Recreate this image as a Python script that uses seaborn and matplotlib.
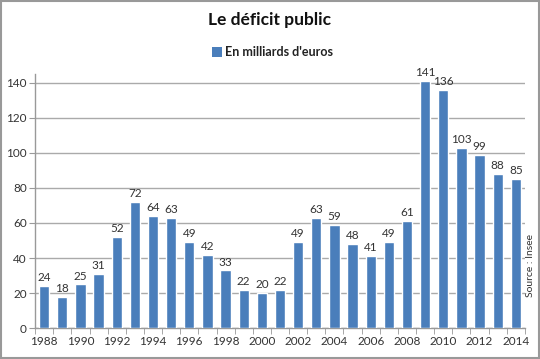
import matplotlib
matplotlib.use("Agg")
import matplotlib.pyplot as plt
import seaborn as sns
import pandas as pd
from matplotlib.patches import Rectangle

# data
years = list(range(1988, 2015))
deficit = [24, 18, 25, 31, 52, 72, 64, 63, 49, 42, 33, 22, 20, 22,
           49, 63, 59, 48, 41, 49, 61, 141, 136, 103, 99, 88, 85]
yticks = [0, 20, 40, 60, 80, 100, 120, 140]

df = pd.DataFrame({"annee": [str(y) for y in years], "deficit": deficit})

sns.set_style("white")
plt.rcParams['font.family'] = ['Lato', 'DejaVu Sans']

fig = plt.figure(figsize=(5.4, 3.59), dpi=100)
ax = fig.add_axes([0.065, 0.086, 0.907, 0.708])

bar_color = "#4a7ebb"
sns.barplot(data=df, x="annee", y="deficit", color=bar_color, width=0.57,
            saturation=1, ax=ax, zorder=3)
ax.bar_label(ax.containers[0], fontsize=8.5, color="#333333", padding=2)

ax.set_ylim(0, 145)
ax.set_xlim(-0.5, len(years) - 0.5)
ax.set_yticks(yticks)
ax.set_yticklabels([str(t) for t in yticks], fontsize=8.5, color="#333333")
ax.set_xticks(range(0, len(years), 2))
ax.set_xticklabels([str(y) for y in years[::2]], fontsize=8.5, color="#333333")
ax.tick_params(axis="x", length=0, pad=6)
ax.tick_params(axis="y", length=4, color="#999999", left=True, pad=2)
# minor ticks between categories
ax.set_xticks([i - 0.5 for i in range(len(years) + 1)], minor=True)
ax.tick_params(axis="x", which="minor", length=4, color="#999999", bottom=True)

ax.set_xlabel("")
ax.set_ylabel("")
ax.yaxis.grid(True, color="#aaaaaa", linewidth=1, zorder=0)
ax.set_axisbelow(True)
for s in ["top", "right"]:
    ax.spines[s].set_visible(False)
for s in ["left", "bottom"]:
    ax.spines[s].set_color("#999999")
    ax.spines[s].set_linewidth(1)

fig.text(0.5, 0.945, "Le déficit public", ha="center", va="center",
         fontsize=12.5, fontweight="bold", color="#111111")
# legend
fig.patches.append(Rectangle((0.392, 0.84), 0.019, 0.03, transform=fig.transFigure,
                             facecolor=bar_color, edgecolor="none"))
fig.text(0.416, 0.855, "En milliards d'euros", ha="left", va="center",
         fontsize=9, fontweight="bold", color="#222222")
fig.text(0.982, 0.26, "Source : Insee", rotation=90, ha="center", va="center",
         fontsize=7.5, color="#333333")

# grey frame round the figure
fig.patches.append(Rectangle((0.002, 0.003), 0.996, 0.994, transform=fig.transFigure,
                             facecolor="none", edgecolor="#999999", linewidth=1.5))

fig.savefig("out.png", dpi=100)
